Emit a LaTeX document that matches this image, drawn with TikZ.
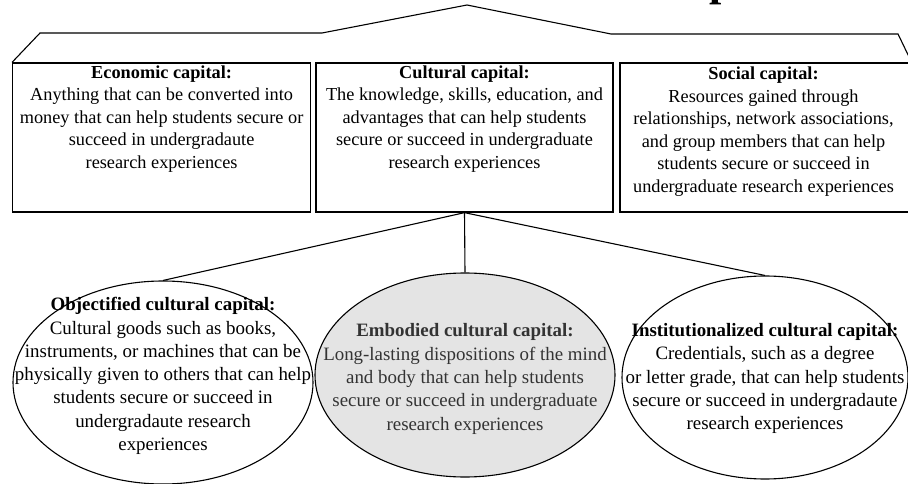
\documentclass[tikz,border=0pt]{standalone}
\usepackage{fontspec}
\setmainfont{Liberation Serif}
\usetikzlibrary{shapes.geometric}
\definecolor{embfill}{HTML}{E4E4E4}
\definecolor{embtext}{HTML}{333333}
\tikzset{
  capbox/.style={draw=black, line width=1.3pt, rectangle, inner sep=0pt},
  capell/.style={draw=black, line width=1.1pt, ellipse, inner sep=0pt},
  boxtext/.style={align=center, inner sep=0pt, font=\fontsize{18.3}{22.5}\selectfont},
  elltext/.style={align=center, inner sep=0pt, font=\fontsize{18.9}{23.3}\selectfont},
  link/.style={draw=black, line width=1.1pt},
}
\begin{document}
\begin{tikzpicture}[x=1pt,y=-1pt]
\useasboundingbox (0,0) rectangle (908,484);
\begin{scope}
\clip (0,0) rectangle (908,484);
\fill[white] (0,0) rectangle (908,484);
% boxes
\node[capbox, minimum width=297.8pt, minimum height=149pt] (econ) at (161.6,137.5) {};
\node[capbox, minimum width=297pt, minimum height=149pt] (cult) at (464.5,137.5) {};
\node[capbox, minimum width=291pt, minimum height=149pt] (soc) at (765.5,137.5) {};
% ellipses
\node[capell, minimum width=300pt, minimum height=203pt] (obj) at (163,382.5) {};
\node[capell, fill=embfill, minimum width=300pt, minimum height=204pt] (emb) at (465,375) {};
\node[capell, minimum width=286pt, minimum height=203pt] (inst) at (765,377.5) {};
% brace
\coordinate (b1) at (40,33);
\coordinate (b2) at (322,33);
\coordinate (apex) at (467,5);
\coordinate (b3) at (611,34);
\coordinate (b4) at (898,34);
\draw[link] (econ.north west) -- (b1) -- (b2) -- (apex) -- (b3) -- (b4) -- (soc.north east);
% connectors
\draw[link] (cult.south) -- (obj.north);
\draw[link] (cult.south) -- (emb.north);
\draw[link] (cult.south) -- (inst.north);
% texts
\node[boxtext] (econt) at (161.6,119) {\textbf{Economic capital:}\\Anything that can be converted into\\money that can help students secure or\\succeed in undergradaute\\research experiences};
\node[boxtext] (cultt) at (464.5,119) {\textbf{Cultural capital:}\\The knowledge, skills, education, and\\advantages that can help students\\secure or succeed in undergraduate\\research experiences};
\node[boxtext] (soct) at (763.5,131.5) {\textbf{Social capital:}\\Resources gained through\\relationships, network associations,\\and group members that can help\\students secure or succeed in\\undergraduate research experiences};
\node[elltext] (objt) at (163,376) {\textbf{Objectified cultural capital:}\\Cultural goods such as books,\\instruments, or machines that can be\\physically given to others that can help\\students secure or succeed in\\undergradaute research\\experiences};
\node[elltext, text=embtext] (embt) at (465,379) {\textbf{Embodied cultural capital:}\\Long-lasting dispositions of the mind\\and body that can help students\\secure or succeed in undergraduate\\research experiences};
\node[elltext] (instt) at (765,378.5) {\textbf{Institutionalized cultural capital:}\\Credentials, such as a degree\\or letter grade, that can help students\\secure or succeed in undergradaute\\research experiences};
% cut-off title fragment
\node[anchor=base west, inner sep=0pt, font=\fontsize{44}{44}\selectfont\bfseries] (title) at (709,-4.5) {p};
\end{scope}
\end{tikzpicture}
\end{document}
